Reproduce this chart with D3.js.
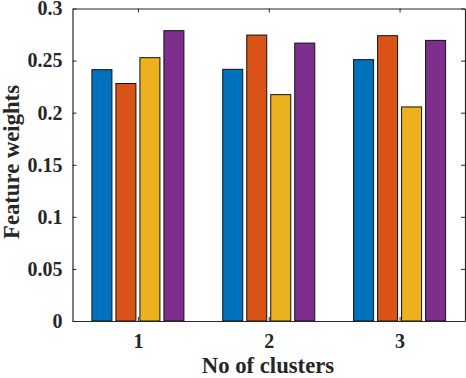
<!DOCTYPE html>
<html>
<head>
<meta charset="utf-8">
<script src="https://cdn.jsdelivr.net/npm/d3@7"></script>
<style>
  body { margin: 0; background: #fff; }
  text { font-family: "Liberation Serif", "Times New Roman", serif; font-weight: bold; fill: #262626; }
</style>
</head>
<body>
<div id="chart"></div>
<script>
// data
const groups = [1, 2, 3];
const seriesA = [0.2413, 0.2416, 0.2509];
const seriesB = [0.2280, 0.2745, 0.2739];
const seriesC = [0.2528, 0.2173, 0.2055];
const seriesD = [0.2787, 0.2668, 0.2694];
const yTicks = [0, 0.05, 0.1, 0.15, 0.2, 0.25, 0.3];
const colors = ['#0072BD', '#D95319', '#EDB120', '#7E2F8E'];

const series = [seriesA, seriesB, seriesC, seriesD];

const width = 466, height = 378;
const padL = 72.5, padR = 465, padT = 8.5, padB = 321;

const svg = d3.select('#chart').append('svg')
    .attr('width', width).attr('height', height);

const xScale = d3.scaleLinear().domain([0.5, 3.5]).range([padL, padR]);
const yScale = d3.scaleLinear().domain([0, 0.3]).range([padB, padT]);

const barW = 20, step = 24;

// bars
series.forEach((s, i) => {
    svg.append('g').selectAll('rect')
        .data(s)
        .enter()
        .append('rect')
        .attr('x', (d, j) => xScale(groups[j]) + (i - 1.5) * step - barW / 2)
        .attr('y', d => yScale(d))
        .attr('width', barW)
        .attr('height', d => yScale(0) - yScale(d))
        .attr('fill', colors[i])
        .attr('stroke', '#111')
        .attr('stroke-width', 1);
});

// axes
const axisColor = '#262626';
const tick = 4;
const xAxis = d3.axisBottom(xScale).tickValues(groups).tickSizeInner(-tick).tickSizeOuter(0).tickPadding(13)
    .tickFormat(d3.format('d'));
const yAxis = d3.axisLeft(yScale).tickValues(yTicks).tickSizeInner(-tick).tickSizeOuter(0).tickPadding(10)
    .tickFormat(d => d === 0 ? '0' : String(+d.toFixed(2)));

const gx = svg.append('g').attr('transform', `translate(0,${padB})`).call(xAxis);
const gy = svg.append('g').attr('transform', `translate(${padL},0)`).call(yAxis);
const gxTop = svg.append('g').attr('transform', `translate(0,${padT})`)
    .call(d3.axisTop(xScale).tickValues(groups).tickSizeInner(-tick).tickSizeOuter(0).tickFormat(''));
const gyRight = svg.append('g').attr('transform', `translate(${padR},0)`)
    .call(d3.axisRight(yScale).tickValues(yTicks).tickSizeInner(-tick).tickSizeOuter(0).tickFormat(''));

[gx, gy, gxTop, gyRight].forEach(g => {
    g.attr('font-family', '"Liberation Serif", serif').attr('font-size', 20);
    g.select('.domain').attr('stroke', axisColor).attr('stroke-width', 1.2);
    g.selectAll('.tick line').attr('stroke', axisColor);
    g.selectAll('text').attr('fill', axisColor)
        .style('font-family', '"Liberation Serif", serif').style('font-weight', 'bold').style('font-size', '20px');
});

// labels
svg.append('text')
    .attr('x', 268).attr('y', 373)
    .attr('text-anchor', 'middle')
    .style('font-size', '22.7px')
    .text('No of clusters');

svg.append('text')
    .attr('transform', 'translate(19,162) rotate(-90)')
    .attr('text-anchor', 'middle')
    .style('font-size', '22.7px')
    .text('Feature weights');
</script>
</body>
</html>
